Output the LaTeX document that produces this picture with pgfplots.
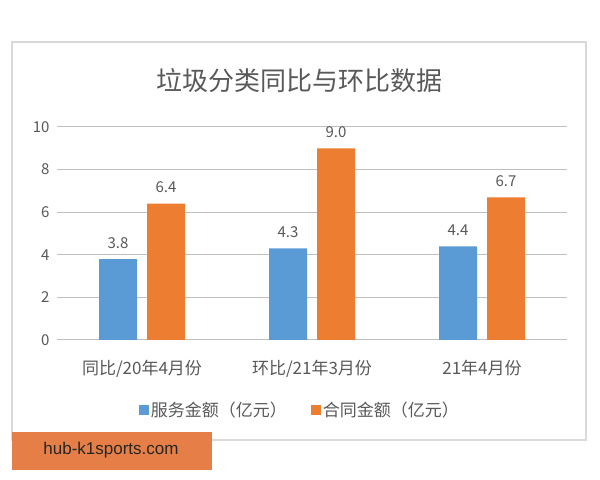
\documentclass[border=0pt]{standalone}
\usepackage{pgfplots}
\pgfplotsset{compat=1.18}
\usepackage{fontspec}
\setmainfont{Noto Sans CJK SC}
\newfontfamily\wmfont{Liberation Sans}
\definecolor{cblue}{HTML}{5B9BD5}
\definecolor{corange}{HTML}{ED7D31}
\definecolor{txt}{HTML}{595959}
\definecolor{grid}{HTML}{D9D9D9}
\definecolor{wm}{HTML}{E67E47}
\begin{document}
\begin{tikzpicture}
\path[fill=white] (0bp,0bp) rectangle (600bp,480bp);
\draw[grid, line width=1.5bp] (12bp,40bp) rectangle (586bp,438bp);
\node[txt, font=\fontsize{26bp}{30bp}\selectfont] at (299bp,399bp) {垃圾分类同比与环比数据};
\begin{axis}[
  at={(57bp,140bp)}, anchor=south west,
  scale only axis, width=510bp, height=213bp,
  xmin=-0.5, xmax=2.5, ymin=0, ymax=10,
  ytick={0,2,4,6,8,10},
  xtick={0,1,2},
  xticklabels={同比/20年4月份, 环比/21年3月份, 21年4月份},
  axis line style={draw=none},
  xmajorgrids=false, ymajorgrids=true,
  grid style={grid, line width=1bp},
  major tick length=0pt,
  xtick style={draw=none}, ytick style={draw=none},
  tick label style={txt},
  /pgf/number format/assume math mode=true,
  yticklabel style={font=\fontsize{15bp}{18bp}\selectfont, xshift=-4bp},
  xticklabel style={font=\fontsize{17bp}{20bp}\selectfont, yshift=-17bp},
  ybar=10bp, bar width=38bp,
  nodes near coords,
  nodes near coords style={txt, font=\fontsize{15bp}{18bp}\selectfont, yshift=7bp, /pgf/number format/fixed, /pgf/number format/precision=1, /pgf/number format/zerofill, /pgf/number format/assume math mode=true},
  legend columns=2,
  legend style={at={(0.476,-0.329)}, anchor=center, draw=none, fill=none,
    font=\fontsize{17bp}{20bp}\selectfont, text=txt,
    /tikz/every even column/.append style={column sep=22bp}},
  legend image code/.code={\fill[#1] (0bp,-5bp) rectangle (10bp,5bp);},
  clip=false,
]
\addplot[fill=cblue, draw=none] coordinates {(0,3.8) (1,4.3) (2,4.4)};
\addlegendentry{服务金额（亿元）}
\addplot[fill=corange, draw=none] coordinates {(0,6.4) (1,9.0) (2,6.7)};
\addlegendentry{合同金额（亿元）}
\end{axis}
\fill[wm] (12bp,10bp) rectangle (212bp,48bp);
\node[text=black!85, font=\wmfont\fontsize{17bp}{20bp}\selectfont] at (111bp,30bp) {hub-k1sports.com};
\end{tikzpicture}
\end{document}
